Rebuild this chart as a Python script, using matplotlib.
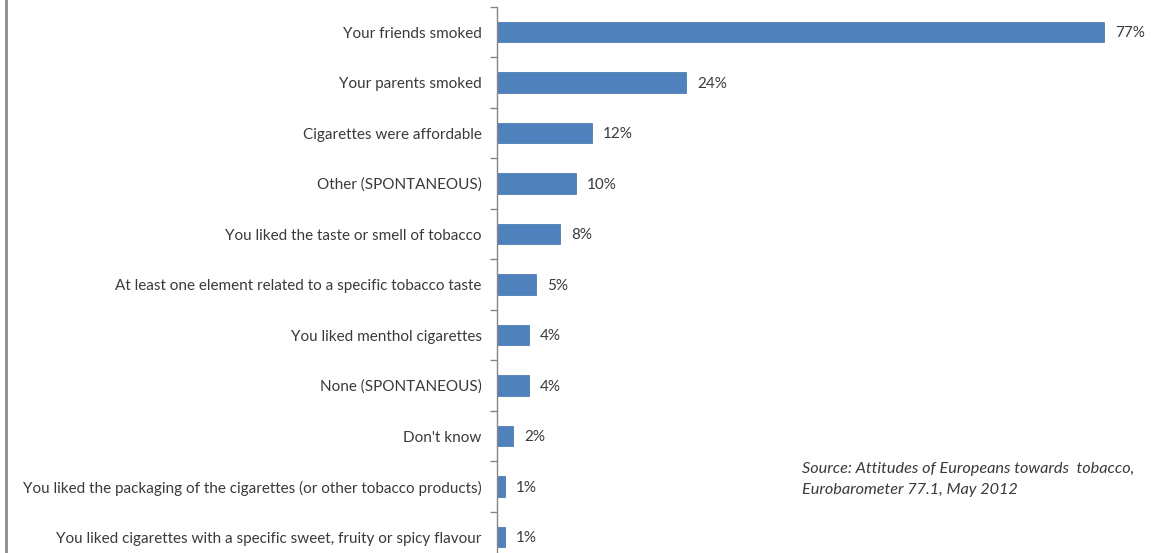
import matplotlib.pyplot as plt
from matplotlib.lines import Line2D

# data
reasons = [
    "Your friends smoked",
    "Your parents smoked",
    "Cigarettes were affordable",
    "Other (SPONTANEOUS)",
    "You liked the taste or smell of tobacco",
    "At least one element related to a specific tobacco taste",
    "You liked menthol cigarettes",
    "None (SPONTANEOUS)",
    "Don't know",
    "You liked the packaging of the cigarettes (or other tobacco products)",
    "You liked cigarettes with a specific sweet, fruity or spicy flavour",
]
share = [77, 24, 12, 10, 8, 5, 4, 4, 2, 1, 1]
value_labels = ["77%", "24%", "12%", "10%", "8%", "5%", "4%", "4%", "2%", "1%", "1%"]
source_text = "Source: Attitudes of Europeans towards  tobacco,\nEurobarometer 77.1, May 2012"

plt.rcParams['font.family'] = ['Lato', 'DejaVu Sans']
txt_col = '#3a3a3a'
bar_col = '#4f81bd'

W, H = 1163, 553
fig = plt.figure(figsize=(W / 100, H / 100), dpi=100)

# axes placed so category centres land at y=32 ... 537 px
left = 497 / W
right = (497 + 80 * 7.883) / W
top = 1 - 6.75 / H
bottom = 1 - 562.25 / H
ax = fig.add_axes([left, bottom, right - left, top - bottom])

ypos = list(range(len(reasons)))
ax.barh(ypos, share, height=0.41, color=bar_col, edgecolor='#3f6fa8', linewidth=0.5)
ax.set_xlim(0, 80)
ax.set_ylim(len(reasons) - 0.5, -0.5)

for y, v, lab in zip(ypos, share, value_labels):
    ax.annotate(lab, (v, y), xytext=(8, -1), textcoords='offset points',
                va='center', ha='left', fontsize=11, color=txt_col)

ax.set_yticks(ypos)
ax.set_yticklabels(reasons, fontsize=11, color=txt_col)
ax.tick_params(axis='y', length=0, pad=11)
ax.set_yticks([i + 0.5 for i in range(-1, len(reasons))], minor=True)
ax.tick_params(axis='y', which='minor', length=5, color='#868686', width=1)
ax.set_xticks([])

for s in ['top', 'right', 'bottom']:
    ax.spines[s].set_visible(False)
ax.spines['left'].set_color('#868686')
ax.spines['left'].set_linewidth(1)

fig.text(802 / W, 1 - 462 / H, source_text, fontsize=11.7, style='italic',
         color=txt_col, va='top', ha='left', linespacing=1.6)

# grey frame edge on the left
fig.add_artist(Line2D([6 / W, 6 / W], [0, 1], color='#8c8c8c', linewidth=2,
                      transform=fig.transFigure))

fig.savefig('out.png', dpi=100, facecolor='white')
